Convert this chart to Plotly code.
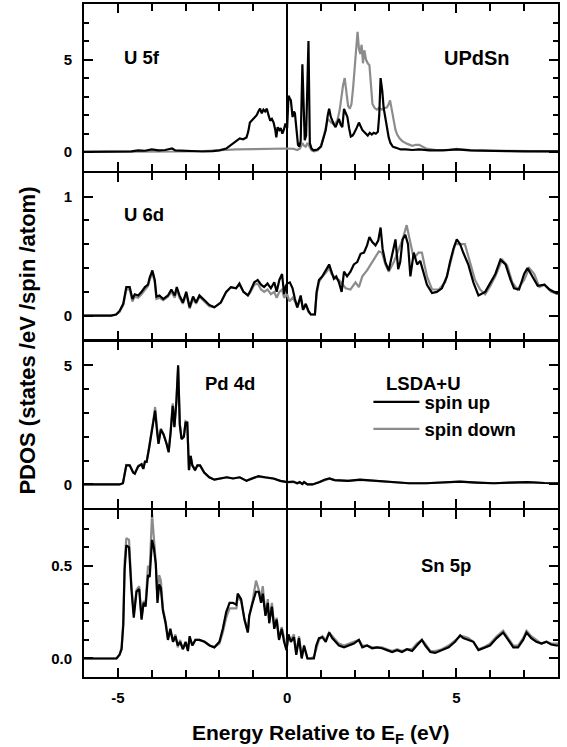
import plotly.graph_objects as go

# ---------------- data (energy eV, PDOS) ----------------
u5f_up = [(-6,0.02),(-5.5,0.02),(-5.0,0.03),(-4.6,0.05),(-4.4,0.1),(-4.2,0.08),(-4.0,0.15),(-3.8,0.1),(-3.6,0.12),
          (-3.4,0.2),(-3.3,0.1),(-3.1,0.08),(-2.8,0.05),(-2.5,0.04),(-2.2,0.06),(-2.0,0.1),(-1.8,0.2),(-1.65,0.4),
          (-1.5,0.65),(-1.4,0.75),(-1.3,0.7),(-1.2,0.8),(-1.15,1.1),(-1.1,1.6),(-1.05,1.7),(-1.0,1.8),(-0.95,1.9),
          (-0.9,2.0),(-0.85,2.2),(-0.8,2.35),(-0.75,2.1),(-0.7,2.3),(-0.65,2.2),(-0.6,2.35),(-0.55,2.0),(-0.5,1.7),
          (-0.45,1.8),(-0.4,1.6),(-0.35,1.2),(-0.32,0.8),(-0.28,1.35),(-0.23,1.2),(-0.19,1.3),(-0.14,1.0),(-0.1,1.2),
          (-0.05,1.55),(0.0,1.3),(0.04,3.05),(0.08,2.9),(0.11,2.8),(0.16,1.9),(0.2,2.2),(0.23,2.1),(0.28,1.2),
          (0.32,0.4),(0.36,0.3),(0.4,0.6),(0.45,4.75),(0.49,2.0),(0.52,0.65),(0.56,0.9),(0.6,3.5),(0.63,6.0),
          (0.67,0.5),(0.72,0.2),(0.78,0.1),(0.9,0.15),(1.0,0.3),(1.07,0.7),(1.14,1.2),(1.2,2.0),(1.24,2.35),
          (1.29,1.9),(1.33,1.7),(1.38,1.5),(1.43,1.35),(1.48,1.6),(1.53,1.8),(1.58,1.5),(1.63,1.35),(1.68,2.34),
          (1.73,2.1),(1.78,1.9),(1.83,1.3),(1.88,0.85),(1.93,0.9),(1.97,1.0),(2.05,1.3),(2.12,1.6),(2.17,1.4),
          (2.22,1.2),(2.27,1.1),(2.32,1.0),(2.38,0.9),(2.44,1.05),(2.5,0.95),(2.56,1.05),(2.62,1.0),(2.68,1.1),
          (2.72,2.0),(2.76,4.0),(2.81,3.3),(2.85,2.4),(2.9,1.8),(2.95,1.2),(3.0,0.8),(3.05,0.5),(3.12,0.3),
          (3.2,0.25),(3.35,0.15),(3.5,0.15),(3.7,0.12),(3.9,0.15),(4.2,0.1),(4.6,0.1),(5.0,0.15),(5.4,0.1),
          (6.0,0.06),(6.5,0.06),(7.0,0.05),(7.5,0.05),(8.0,0.05)]
u5f_dn = [(-6,0.02),(-5,0.02),(-4,0.03),(-3,0.04),(-2.3,0.08),(-2.0,0.12),(-1.5,0.15),(-1.0,0.17),(-0.5,0.2),
          (0.0,0.2),(0.2,0.18),(0.3,0.12),(0.38,0.2),(0.45,0.5),(0.5,0.35),(0.55,0.3),(0.6,0.5),(0.66,0.3),
          (0.72,0.1),(0.8,0.05),(0.9,0.1),(1.0,0.35),(1.1,1.0),(1.2,1.8),(1.3,1.6),(1.4,1.5),(1.48,1.7),
          (1.55,2.25),(1.6,3.0),(1.65,3.6),(1.7,4.0),(1.74,3.4),(1.8,2.5),(1.85,2.35),(1.9,2.6),(1.95,3.5),
          (2.0,4.9),(2.04,5.6),(2.08,6.5),(2.12,5.6),(2.16,5.3),(2.2,5.8),(2.24,4.8),(2.28,5.5),(2.33,5.0),
          (2.38,4.8),(2.43,4.7),(2.47,3.9),(2.52,2.6),(2.58,2.4),(2.65,2.3),(2.72,2.4),(2.8,2.3),(2.88,2.4),
          (2.94,2.4),(3.0,2.6),(3.04,2.8),(3.09,2.3),(3.14,1.7),(3.2,1.2),(3.25,0.95),(3.32,0.75),(3.4,0.6),
          (3.55,0.45),(3.7,0.35),(3.8,0.4),(3.9,0.4),(4.1,0.2),(4.4,0.12),(4.8,0.12),(5.0,0.18),(5.5,0.1),
          (6.0,0.08),(7.0,0.06),(8.0,0.05)]

u6d_up = [(-6,0),(-5.2,0),(-5.05,0.01),(-4.95,0.04),(-4.84,0.1),(-4.75,0.24),(-4.65,0.24),(-4.57,0.14),(-4.5,0.18),
          (-4.4,0.17),(-4.3,0.2),(-4.2,0.24),(-4.11,0.26),(-4.06,0.32),(-3.98,0.38),(-3.91,0.3),(-3.86,0.16),
          (-3.77,0.17),(-3.66,0.14),(-3.52,0.17),(-3.42,0.22),(-3.32,0.17),(-3.26,0.24),(-3.18,0.17),(-3.08,0.11),
          (-2.98,0.2),(-2.88,0.07),(-2.78,0.16),(-2.69,0.11),(-2.59,0.17),(-2.44,0.13),(-2.3,0.09),(-2.15,0.07),
          (-1.96,0.11),(-1.8,0.2),(-1.66,0.24),(-1.51,0.23),(-1.41,0.27),(-1.29,0.2),(-1.16,0.17),(-1.1,0.2),
          (-0.97,0.28),(-0.87,0.3),(-0.77,0.26),(-0.68,0.24),(-0.58,0.27),(-0.48,0.23),(-0.38,0.28),(-0.31,0.2),
          (-0.23,0.3),(-0.15,0.35),(-0.09,0.18),(-0.04,0.25),(0.0,0.27),(0.08,0.28),(0.16,0.23),(0.23,0.14),
          (0.3,0.07),(0.4,0.17),(0.47,0.05),(0.55,0.1),(0.63,0.04),(0.7,0.01),(0.82,0.01),(0.87,0.2),(0.94,0.3),
          (1.04,0.33),(1.14,0.38),(1.24,0.43),(1.31,0.37),(1.38,0.31),(1.45,0.33),(1.53,0.28),(1.61,0.2),
          (1.68,0.37),(1.77,0.33),(1.87,0.37),(1.97,0.43),(2.07,0.45),(2.17,0.52),(2.27,0.53),(2.36,0.59),
          (2.43,0.66),(2.51,0.62),(2.61,0.59),(2.69,0.63),(2.76,0.74),(2.82,0.56),(2.9,0.45),(3.0,0.38),
          (3.1,0.5),(3.2,0.64),(3.28,0.39),(3.34,0.45),(3.41,0.64),(3.49,0.68),(3.57,0.6),(3.64,0.33),(3.74,0.53),
          (3.84,0.43),(3.93,0.46),(4.03,0.37),(4.13,0.26),(4.28,0.19),(4.42,0.2),(4.57,0.23),(4.72,0.33),
          (4.81,0.45),(4.91,0.56),(5.01,0.64),(5.11,0.6),(5.2,0.53),(5.35,0.43),(5.5,0.28),(5.65,0.17),
          (5.85,0.2),(6.0,0.28),(6.15,0.35),(6.3,0.47),(6.45,0.43),(6.6,0.3),(6.7,0.23),(6.85,0.22),(7.0,0.35),
          (7.1,0.4),(7.25,0.33),(7.4,0.25),(7.6,0.26),(7.75,0.22),(7.95,0.19),(8.0,0.19)]
u6d_dn = [(-6,0),(-5.2,0),(-5.05,0.01),(-4.95,0.03),(-4.84,0.09),(-4.75,0.22),(-4.65,0.22),(-4.57,0.12),(-4.5,0.16),
          (-4.4,0.15),(-4.3,0.18),(-4.2,0.22),(-4.11,0.25),(-4.06,0.3),(-3.98,0.36),(-3.91,0.28),(-3.86,0.14),
          (-3.77,0.15),(-3.66,0.13),(-3.52,0.16),(-3.42,0.2),(-3.32,0.15),(-3.26,0.22),(-3.18,0.15),(-3.08,0.1),
          (-2.98,0.18),(-2.88,0.06),(-2.78,0.14),(-2.69,0.1),(-2.59,0.16),(-2.44,0.12),(-2.3,0.08),(-2.15,0.07),
          (-1.96,0.11),(-1.8,0.2),(-1.66,0.24),(-1.51,0.23),(-1.41,0.26),(-1.29,0.2),(-1.16,0.17),(-1.1,0.19),
          (-0.97,0.26),(-0.87,0.27),(-0.77,0.22),(-0.68,0.2),(-0.58,0.22),(-0.48,0.18),(-0.38,0.2),(-0.31,0.15),
          (-0.23,0.2),(-0.15,0.22),(-0.09,0.15),(0.0,0.18),(0.07,0.12),(0.16,0.15),(0.23,0.12),(0.3,0.07),
          (0.4,0.15),(0.47,0.05),(0.55,0.09),(0.63,0.03),(0.7,0.01),(0.82,0.01),(0.87,0.18),(0.94,0.28),
          (1.04,0.33),(1.14,0.36),(1.24,0.4),(1.31,0.35),(1.38,0.33),(1.45,0.31),(1.53,0.3),(1.63,0.26),
          (1.73,0.23),(1.87,0.22),(2.02,0.28),(2.12,0.24),(2.22,0.33),(2.36,0.38),(2.51,0.45),(2.61,0.5),
          (2.71,0.54),(2.8,0.53),(2.9,0.43),(3.0,0.37),(3.15,0.45),(3.3,0.56),(3.41,0.64),(3.53,0.76),(3.64,0.6),
          (3.74,0.48),(3.88,0.53),(3.98,0.53),(4.13,0.33),(4.28,0.22),(4.48,0.22),(4.67,0.28),(4.81,0.43),
          (4.96,0.6),(5.11,0.6),(5.25,0.6),(5.4,0.45),(5.55,0.3),(5.7,0.22),(5.85,0.18),(6.0,0.25),(6.15,0.33),
          (6.35,0.47),(6.5,0.42),(6.65,0.28),(6.8,0.22),(7.0,0.3),(7.15,0.4),(7.3,0.35),(7.45,0.24),(7.6,0.26),
          (7.8,0.2),(8.0,0.18)]

pd4d_up = [(-6,0),(-4.95,0),(-4.85,0.05),(-4.75,0.8),(-4.65,0.8),(-4.55,0.5),(-4.5,0.45),(-4.4,0.75),(-4.3,0.85),
           (-4.25,0.65),(-4.2,0.95),(-4.15,0.95),(-4.08,1.5),(-4.03,1.9),(-3.95,2.6),(-3.9,3.1),(-3.84,2.2),
           (-3.8,1.7),(-3.73,2.3),(-3.65,2.1),(-3.56,1.7),(-3.5,1.35),(-3.44,2.2),(-3.38,3.3),(-3.33,2.4),
           (-3.27,3.5),(-3.22,5.0),(-3.17,2.5),(-3.12,1.9),(-3.05,2.0),(-3.0,2.6),(-2.95,2.6),(-2.9,0.6),
           (-2.85,1.2),(-2.8,0.8),(-2.72,0.6),(-2.65,0.8),(-2.57,0.8),(-2.45,0.5),(-2.3,0.3),(-2.15,0.2),
           (-1.96,0.25),(-1.78,0.3),(-1.6,0.25),(-1.4,0.3),(-1.2,0.15),(-1.05,0.25),(-0.85,0.35),(-0.65,0.3),
           (-0.4,0.25),(-0.2,0.15),(0.0,0.1),(0.18,0.12),(0.3,0.05),(0.37,0.1),(0.45,0.02),(0.5,0.1),(0.6,0.0),
           (0.75,0.0),(0.96,0.1),(1.1,0.2),(1.25,0.25),(1.4,0.18),(1.55,0.18),(1.8,0.15),(2.15,0.2),(2.6,0.15),
           (3.1,0.1),(3.6,0.05),(4.1,0.05),(4.6,0.08),(5.1,0.12),(5.6,0.08),(6.1,0.05),(6.6,0.08),(7.1,0.1),
           (7.6,0.06),(8.0,0.05)]
pd4d_dn = [(-6,0),(-4.95,0),(-4.85,0.05),(-4.75,0.82),(-4.65,0.8),(-4.55,0.52),(-4.5,0.45),(-4.4,0.78),(-4.3,0.85),
           (-4.25,0.66),(-4.2,0.97),(-4.15,0.95),(-4.08,1.55),(-4.03,1.95),(-3.95,2.7),(-3.9,3.25),(-3.84,2.25),
           (-3.8,1.75),(-3.73,2.35),(-3.65,2.1),(-3.56,1.72),(-3.5,1.4),(-3.44,2.25),(-3.38,3.4),(-3.33,2.45),
           (-3.27,3.55),(-3.22,4.9),(-3.17,2.55),(-3.12,1.95),(-3.05,2.05),(-3.0,2.65),(-2.95,2.6),(-2.9,0.62),
           (-2.85,1.2),(-2.8,0.8),(-2.72,0.62),(-2.65,0.8),(-2.57,0.78),(-2.45,0.5),(-2.3,0.3),(-2.15,0.2),
           (-1.96,0.26),(-1.78,0.3),(-1.6,0.25),(-1.4,0.3),(-1.2,0.16),(-1.05,0.25),(-0.85,0.33),(-0.65,0.3),
           (-0.4,0.24),(-0.2,0.15),(0.0,0.1),(0.18,0.1),(0.3,0.05),(0.37,0.08),(0.45,0.02),(0.5,0.08),(0.6,0.0),
           (0.75,0.0),(0.96,0.1),(1.1,0.18),(1.25,0.24),(1.4,0.18),(1.55,0.17),(1.8,0.15),(2.15,0.19),(2.6,0.15),
           (3.1,0.1),(3.6,0.05),(4.1,0.05),(4.6,0.08),(5.1,0.12),(5.6,0.08),(6.1,0.05),(6.6,0.08),(7.1,0.1),
           (7.6,0.06),(8.0,0.05)]

sn5p_up = [(-6,0),(-5.1,0),(-5.04,0.0),(-4.95,0.02),(-4.89,0.05),(-4.84,0.18),(-4.8,0.48),(-4.75,0.61),(-4.67,0.6),
           (-4.6,0.375),(-4.53,0.22),(-4.45,0.36),(-4.37,0.375),(-4.3,0.21),(-4.24,0.3),(-4.18,0.28),(-4.11,0.45),
           (-4.06,0.44),(-3.99,0.64),(-3.94,0.6),(-3.88,0.51),(-3.83,0.3),(-3.78,0.4),(-3.73,0.38),(-3.67,0.26),
           (-3.59,0.19),(-3.52,0.1),(-3.45,0.16),(-3.37,0.09),(-3.3,0.12),(-3.23,0.07),(-3.16,0.09),(-3.08,0.05),
           (-3.0,0.09),(-2.93,0.04),(-2.88,0.12),(-2.8,0.07),(-2.71,0.1),(-2.59,0.1),(-2.44,0.09),(-2.29,0.07),
           (-2.15,0.06),(-2.0,0.09),(-1.9,0.16),(-1.8,0.25),(-1.7,0.3),(-1.6,0.3),(-1.5,0.29),(-1.46,0.35),
           (-1.36,0.32),(-1.26,0.21),(-1.16,0.14),(-1.12,0.23),(-1.02,0.3),(-0.92,0.36),(-0.84,0.36),(-0.77,0.3),
           (-0.72,0.35),(-0.64,0.23),(-0.57,0.3),(-0.53,0.19),(-0.45,0.28),(-0.38,0.16),(-0.31,0.21),(-0.24,0.1),
           (-0.16,0.16),(-0.09,0.09),(-0.02,0.045),(0.04,0.13),(0.11,0.09),(0.2,0.115),(0.27,0.02),(0.35,0.11),
           (0.43,0.0),(0.5,0.07),(0.6,0.0),(0.7,0.0),(0.79,0.0),(0.86,0.07),(0.94,0.11),(1.04,0.115),(1.14,0.09),
           (1.24,0.14),(1.33,0.11),(1.43,0.09),(1.53,0.07),(1.68,0.06),(1.82,0.07),(1.97,0.08),(2.12,0.1),
           (2.22,0.06),(2.36,0.07),(2.51,0.055),(2.66,0.06),(2.8,0.055),(2.95,0.045),(3.1,0.035),(3.25,0.045),
           (3.39,0.035),(3.54,0.05),(3.69,0.04),(3.83,0.07),(3.98,0.1),(4.08,0.07),(4.23,0.035),(4.37,0.03),
           (4.57,0.045),(4.77,0.06),(4.96,0.09),(5.11,0.125),(5.2,0.11),(5.35,0.1),(5.5,0.09),(5.65,0.045),
           (5.8,0.055),(5.99,0.07),(6.19,0.11),(6.38,0.14),(6.53,0.1),(6.68,0.06),(6.82,0.06),(6.97,0.1),
           (7.07,0.14),(7.21,0.11),(7.36,0.09),(7.51,0.08),(7.66,0.09),(7.8,0.075),(7.95,0.07),(8.0,0.07)]
sn5p_dn = [(-6,0),(-5.1,0),(-5.04,0.0),(-4.95,0.02),(-4.89,0.06),(-4.84,0.2),(-4.8,0.52),(-4.75,0.65),(-4.67,0.64),
           (-4.6,0.4),(-4.53,0.24),(-4.45,0.37),(-4.37,0.39),(-4.3,0.22),(-4.24,0.31),(-4.18,0.3),(-4.11,0.5),
           (-4.06,0.48),(-3.99,0.78),(-3.94,0.66),(-3.88,0.52),(-3.83,0.32),(-3.78,0.45),(-3.73,0.42),(-3.67,0.27),
           (-3.59,0.2),(-3.52,0.11),(-3.45,0.15),(-3.37,0.09),(-3.3,0.13),(-3.23,0.06),(-3.16,0.1),(-3.08,0.05),
           (-3.0,0.08),(-2.93,0.05),(-2.88,0.11),(-2.8,0.07),(-2.71,0.1),(-2.59,0.1),(-2.44,0.09),(-2.29,0.07),
           (-2.15,0.06),(-2.0,0.08),(-1.9,0.14),(-1.8,0.22),(-1.7,0.27),(-1.6,0.27),(-1.5,0.27),(-1.46,0.33),
           (-1.36,0.31),(-1.26,0.21),(-1.16,0.14),(-1.12,0.23),(-1.02,0.31),(-0.92,0.42),(-0.84,0.37),(-0.77,0.33),
           (-0.72,0.39),(-0.64,0.24),(-0.57,0.32),(-0.53,0.2),(-0.45,0.3),(-0.38,0.17),(-0.31,0.22),(-0.24,0.11),
           (-0.16,0.17),(-0.09,0.1),(-0.02,0.05),(0.04,0.12),(0.11,0.1),(0.2,0.13),(0.27,0.03),(0.35,0.12),
           (0.43,0.01),(0.5,0.06),(0.6,0.0),(0.7,0.0),(0.79,0.01),(0.86,0.05),(0.94,0.1),(1.04,0.12),(1.14,0.1),
           (1.24,0.14),(1.33,0.12),(1.43,0.1),(1.53,0.08),(1.68,0.07),(1.82,0.08),(1.97,0.09),(2.12,0.1),
           (2.22,0.07),(2.36,0.07),(2.51,0.06),(2.66,0.06),(2.8,0.06),(2.95,0.05),(3.1,0.04),(3.25,0.05),
           (3.39,0.04),(3.54,0.05),(3.69,0.05),(3.83,0.08),(3.98,0.1),(4.08,0.08),(4.23,0.04),(4.37,0.04),
           (4.57,0.05),(4.77,0.07),(4.96,0.1),(5.11,0.12),(5.2,0.12),(5.35,0.11),(5.5,0.09),(5.65,0.05),
           (5.8,0.06),(5.99,0.08),(6.19,0.12),(6.38,0.15),(6.53,0.11),(6.68,0.07),(6.82,0.07),(6.97,0.11),
           (7.07,0.15),(7.21,0.12),(7.36,0.1),(7.51,0.08),(7.66,0.09),(7.8,0.08),(7.95,0.08),(8.0,0.08)]

panel_labels = ["U 5f", "U 6d", "Pd 4d", "Sn 5p"]
panel_ranges = [[-1, 8], [-0.2, 1.2], [-1, 6], [-0.1, 0.8]]
panel_major = [[0, 5], [0, 1], [0, 5], [0, 0.5]]
panel_major_text = [["0", "5"], ["0", "1"], ["0", "5"], ["0.0", "0.5"]]
panel_minor = [1, 0.2, 1, 0.1]
x_major = [-5, 0, 5]
x_major_text = ["-5", "0", "5"]
series = [(u5f_up, u5f_dn), (u6d_up, u6d_dn), (pd4d_up, pd4d_dn), (sn5p_up, sn5p_dn)]

FONT = "Liberation Sans, Arial, Helvetica, sans-serif"
BLACK = "#000000"
GRAY = "#8c8c8c"

fig = go.Figure()
for i, (up, dn) in enumerate(series):
    k = "" if i == 0 else str(i + 1)
    show = (i == 2)
    fig.add_trace(go.Scatter(x=[p[0] for p in dn], y=[p[1] for p in dn], mode="lines",
                             line=dict(color=GRAY, width=2.2), name="spin down",
                             showlegend=show, legendrank=2, xaxis="x" + k, yaxis="y" + k))
    fig.add_trace(go.Scatter(x=[p[0] for p in up], y=[p[1] for p in up], mode="lines",
                             line=dict(color=BLACK, width=2.2), name="spin up",
                             showlegend=show, legendrank=1, xaxis="x" + k, yaxis="y" + k))

# panel domains: 4 equal panels separated by a gap equal to the axis line width,
# so the bottom line of one panel and the top line of the next coincide
PLOT_H = 675.0
LW = 2.0
ph = (PLOT_H - 3 * LW) / 4 / PLOT_H
gap = LW / PLOT_H
domains = []
top = 1.0
for i in range(4):
    domains.append([max(0.0, top - ph), top])
    top = top - ph - gap

layout = dict(
    width=567, height=747,
    margin=dict(l=84, r=9, t=2, b=70),
    paper_bgcolor="white", plot_bgcolor="white",
    font=dict(family=FONT, size=15, color="black", weight="bold"),
    legend=dict(x=0.6, y=0.388, xanchor="left", yanchor="middle", bgcolor="rgba(0,0,0,0)",
                font=dict(family=FONT, size=18.5, weight="bold"), itemwidth=46, tracegroupgap=0),
)
for i in range(4):
    k = "" if i == 0 else str(i + 1)
    layout["xaxis" + k] = dict(
        domain=[0, 1], anchor="y" + k, range=[-6, 8], tickmode="array", tickvals=x_major,
        ticktext=x_major_text, showticklabels=(i == 3), ticks="inside", ticklen=9, tickwidth=1.5,
        tickcolor="black", showline=True, linewidth=LW, linecolor="black", mirror="ticks",
        showgrid=False, zeroline=True, zerolinecolor="black", zerolinewidth=1.8,
        ticklabelstandoff=6, tickfont=dict(size=15, weight="bold"),
        minor=dict(dtick=1, tick0=0, ticks="inside", ticklen=7, tickwidth=1.5, tickcolor="black",
                   showgrid=False))
    layout["yaxis" + k] = dict(
        domain=domains[i], anchor="x" + k, range=panel_ranges[i], tickmode="array",
        tickvals=panel_major[i], ticktext=panel_major_text[i], ticks="inside", ticklen=9,
        tickwidth=1.5, tickcolor="black", showline=True, linewidth=LW, linecolor="black",
        mirror="ticks", showgrid=False, zeroline=False, ticklabelstandoff=7,
        tickfont=dict(size=15, weight="bold"),
        minor=dict(dtick=panel_minor[i], tick0=0, ticks="inside", ticklen=5, tickwidth=1.5,
                   tickcolor="black", showgrid=False))
fig.update_layout(**layout)

ann = []
label_pos = [(-4.88, 5.1), (-4.88, 0.85), (-2.5, 4.22), (3.88, 0.5)]
for i, (txt, (ax, ay)) in enumerate(zip(panel_labels, label_pos)):
    k = "" if i == 0 else str(i + 1)
    ann.append(dict(text=txt, x=ax, y=ay, xref="x" + k, yref="y" + k, xanchor="left",
                    yanchor="middle", showarrow=False, font=dict(size=18.5, weight="bold")))
ann.append(dict(text="UPdSn", x=4.56, y=5.1, xref="x", yref="y", xanchor="left", yanchor="middle",
                showarrow=False, font=dict(size=20, weight="bold")))
ann.append(dict(text="LSDA+U", x=2.85, y=4.22, xref="x3", yref="y3", xanchor="left", yanchor="middle",
                showarrow=False, font=dict(size=18.5, weight="bold")))
ann.append(dict(text="PDOS (states /eV /spin /atom)", x=-0.12, y=0.5, xref="paper", yref="paper",
                textangle=-90, showarrow=False, xanchor="center", yanchor="middle",
                font=dict(size=22, weight="bold")))
ann.append(dict(text="Energy Relative to E<sub>F</sub> (eV)", x=0.5, y=-0.084, xref="paper", yref="paper",
                showarrow=False, xanchor="center", yanchor="middle", font=dict(size=21, weight="bold")))
fig.update_layout(annotations=ann)

# remove the default 8px page margin so the figure sits at the window's top-left corner
fig.write_html("out.html", config={"displayModeBar": False},
               post_script="document.body.style.margin='0px';")
